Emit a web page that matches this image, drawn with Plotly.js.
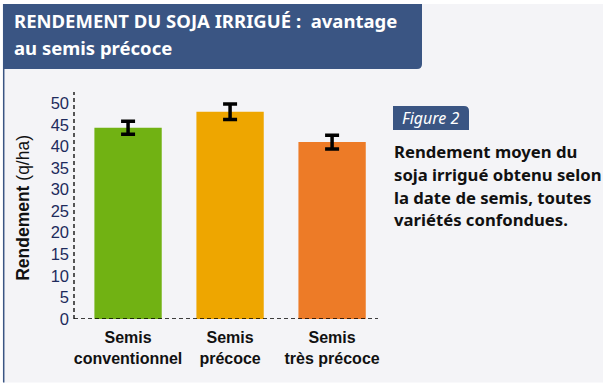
<!DOCTYPE html>
<html>
<head>
<meta charset="utf-8">
<script src="https://cdn.plot.ly/plotly-3.0.1.min.js"></script>
<style>html,body{margin:0;padding:0;background:#fff;}#chart{width:610px;height:383px;}</style>
</head>
<body>
<div id="chart"></div>
<script>
// ---- data ----
const categories = ["Semis conventionnel", "Semis précoce", "Semis très précoce"];
const tickLabels = ["<b>Semis</b><br><b>conventionnel</b>", "<b>Semis</b><br><b>précoce</b>", "<b>Semis</b><br><b>très précoce</b>"];
const rendement = [44.3, 48.0, 41.0];
const erreur = [1.5, 1.8, 1.6];
const barColors = ["#71b213", "#eea600", "#ed7b27"];
const yTickVals = [0, 5, 10, 15, 20, 25, 30, 35, 40, 45, 50];

// ---- layout geometry (pixels) ----
const W = 610, H = 383;
const L = 74, R = 378, T = 92, B = 319.3;
const px = v => (v - L) / (R - L);
const py = v => (B - v) / (B - T);
const BLUE = "#3a5583";

function pathPx(pts) {
  return pts.map((p, i) => {
    if (p[0] === "Q") return "Q" + px(p[1]) + "," + py(p[2]) + " " + px(p[3]) + "," + py(p[4]);
    return (i === 0 ? "M" : "L") + px(p[0]) + "," + py(p[1]);
  }).join(" ") + " Z";
}

const shapes = [
  {type: "rect", xref: "paper", yref: "paper", x0: px(3), x1: px(603), y0: py(4), y1: py(383),
   fillcolor: "#f4f4f7", line: {width: 0}, layer: "below"},
  {type: "line", xref: "paper", yref: "paper", x0: px(3.7), x1: px(3.7), y0: py(4), y1: py(383),
   line: {color: BLUE, width: 1.5}, layer: "below"},
  {type: "path", xref: "paper", yref: "paper", layer: "below",
   path: pathPx([[3, 4], [422, 4], [422, 64], ["Q", 422, 69, 417, 69], [3, 69]]),
   fillcolor: BLUE, line: {width: 0}},
  {type: "path", xref: "paper", yref: "paper", layer: "below",
   path: pathPx([[393, 106], [464, 106], ["Q", 469, 106, 469, 111], [469, 130], [393, 130]]),
   fillcolor: BLUE, line: {width: 0}},
  {type: "line", xref: "paper", yref: "paper", x0: 0, x1: 0, y0: 0, y1: 1,
   line: {color: "#000", width: 1.3, dash: "4px,3px"}},
  {type: "line", xref: "paper", yref: "y", x0: 0, x1: 1, y0: 0, y1: 0,
   line: {color: "#000", width: 1.3, dash: "4px,3px"}}
];

const titleFont = {family: "Noto Sans, sans-serif", size: 18.5, color: "#ffffff", weight: 700};
const noteFont = {family: "Noto Sans, sans-serif", size: 16.7, color: "#111111", weight: 700};

const annotations = [
  {xref: "paper", yref: "paper", x: px(12), y: py(20), xanchor: "left", yanchor: "middle",
   text: "<b>RENDEMENT DU SOJA IRRIGUÉ :  avantage</b>", showarrow: false, font: titleFont},
  {xref: "paper", yref: "paper", x: px(12), y: py(47), xanchor: "left", yanchor: "middle",
   text: "<b>au semis précoce</b>", showarrow: false, font: titleFont},
  {xref: "paper", yref: "paper", x: px(430), y: py(118), xanchor: "center", yanchor: "middle",
   text: "<i>Figure 2</i>", showarrow: false,
   font: {family: "Noto Sans, sans-serif", size: 16, color: "#ffffff"}},
  {xref: "paper", yref: "paper", x: px(392), y: py(152), xanchor: "left", yanchor: "middle",
   text: "<b>Rendement moyen du</b>", showarrow: false, font: noteFont},
  {xref: "paper", yref: "paper", x: px(392), y: py(175), xanchor: "left", yanchor: "middle",
   text: "<b>soja irrigué obtenu selon</b>", showarrow: false, font: noteFont},
  {xref: "paper", yref: "paper", x: px(392), y: py(197.5), xanchor: "left", yanchor: "middle",
   text: "<b>la date de semis, toutes</b>", showarrow: false, font: noteFont},
  {xref: "paper", yref: "paper", x: px(392), y: py(220), xanchor: "left", yanchor: "middle",
   text: "<b>variétés confondues.</b>", showarrow: false, font: noteFont},
  {xref: "paper", yref: "paper", x: px(23), y: py(208), xanchor: "center", yanchor: "middle",
   textangle: -90, text: "<b>Rendement</b> (q/ha)", showarrow: false,
   font: {family: "Liberation Sans, Arial, sans-serif", size: 17.5, color: "#111111"}}
];

const trace = {
  type: "bar",
  x: categories,
  y: rendement,
  marker: {color: barColors, line: {width: 0}},
  error_y: {type: "data", array: erreur, visible: true, color: "#000", thickness: 3.5, width: 7},
  hoverinfo: "skip"
};

const layout = {
  width: W, height: H,
  margin: {l: L, r: W - R, t: T, b: H - B, pad: 0},
  paper_bgcolor: "#ffffff",
  plot_bgcolor: "rgba(0,0,0,0)",
  showlegend: false,
  bargap: 0.34,
  xaxis: {
    type: "category", range: [-0.53, 2.45],
    tickvals: categories, ticktext: tickLabels,
    showgrid: false, zeroline: false, showline: false, ticks: "",
    ticklabelstandoff: 7,
    tickfont: {family: "Liberation Sans, Arial, sans-serif", size: 16, color: "#111111"}
  },
  yaxis: {
    range: [0, 52.6], tickvals: yTickVals,
    showgrid: false, zeroline: false, showline: false, ticks: "",
    ticklabelstandoff: 4,
    tickfont: {family: "Liberation Sans, Arial, sans-serif", size: 16.5, color: "#1e2b5c"}
  },
  shapes: shapes,
  annotations: annotations
};

Plotly.newPlot("chart", [trace], layout, {displayModeBar: false, staticPlot: true});
</script>
</body>
</html>
